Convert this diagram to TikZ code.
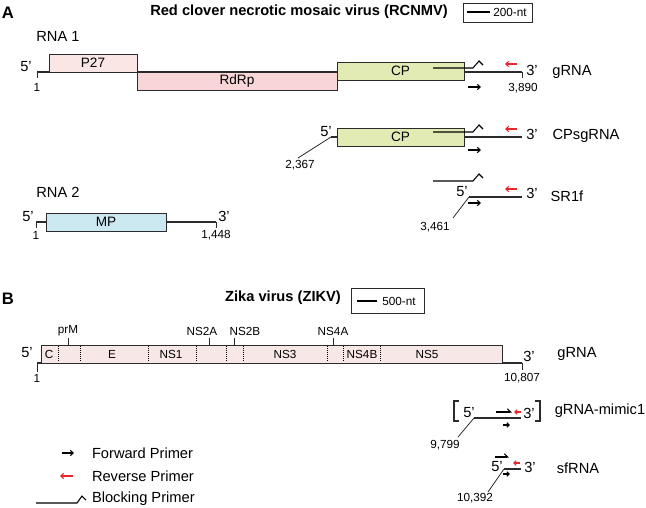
\documentclass[tikz,border=0pt]{standalone}
\usepackage{fontspec}
\setmainfont{Liberation Sans}
\usetikzlibrary{arrows.meta}
\definecolor{pPink}{HTML}{F9E6E5}
\definecolor{pRdRp}{HTML}{F8D5D6}
\definecolor{pCP}{HTML}{E3EBB5}
\definecolor{pMP}{HTML}{CCE9F2}
\definecolor{pZika}{HTML}{F8E7E7}
\definecolor{revred}{HTML}{E8262B}
\definecolor{ln}{HTML}{2B2B2B}
\begin{document}
\begin{tikzpicture}[x=0.75pt,y=-0.75pt,
  every node/.style={inner sep=0pt,outer sep=0pt},
  lab/.style={font=\fontsize{11}{12}\selectfont},
  num/.style={font=\fontsize{8.8}{10}\selectfont},
  glab/.style={font=\fontsize{10.2}{11}\selectfont},
  zlab/.style={font=\fontsize{8.8}{10}\selectfont},
  ttl/.style={font=\fontsize{11}{13}\selectfont\bfseries},
  panel/.style={font=\fontsize{12.5}{14}\selectfont\bfseries},
  gbox/.style={draw=ln,line width=0.75pt,minimum height=13.5pt},
  rna/.style={draw=ln,line width=1pt},
  thinl/.style={draw=ln,line width=0.6pt},
  fwd/.style={draw=black,line width=0.8pt,-{Straight Barb[length=2.2pt,width=4pt]}},
  rev/.style={draw=revred,line width=0.8pt,-{Straight Barb[length=2.2pt,width=4pt]}},
  blk/.style={draw=black,line width=0.8pt},
  harp/.style={draw=black,line width=0.8pt,-{Straight Barb[left,length=2.5pt,width=5pt]}},
]
\path[use as bounding box] (0,0) rectangle (646,507);

% ---------------- Panel A ----------------
\node[panel] (pA) at (8,13) {A};
\node[ttl] (tA) at (299,12) {Red clover necrotic mosaic virus (RCNMV)};
\node[draw=ln,line width=0.6pt,minimum width=51.75pt,minimum height=14.25pt] (scA) at (497.5,12.5) {};
\coordinate (scA1) at (467,12); \coordinate (scA2) at (490,12);
\draw[line width=0.8pt] (scA1) -- (scA2);
\node[num] (scAt) at (510,12.5) {200-nt};

\node[lab] (rna1) at (58,36) {RNA 1};

% gRNA
\coordinate (a1s) at (37,72); \coordinate (a1e) at (522,72);
\draw[rna] (a1s) -- (a1e);
\draw[thinl] (a1s) -- ++(0,6);
\draw[thinl] (a1e) -- ++(0,6);
\node[gbox,fill=pPink,minimum width=66pt,glab] (p27) at (93,63) {P27};
\node[gbox,fill=pRdRp,minimum width=150pt,glab] (rdrp) at (237,81) {RdRp};
\node[gbox,fill=pCP,minimum width=95.25pt,glab] (cp1) at (400.5,71) {CP};
\draw[blk] (433,68) -- (473,68) -- (479,61) -- (483,65);
\draw[rev] (517,64) -- (505,64);
\draw[fwd] (468,87) -- (481,87);
\node[lab] (a5) at (26,67) {5’};
\node[lab] (a3) at (532,70) {3’};
\node[lab] (agrna) at (572,72) {gRNA};
\node[num] (a1n) at (37,87) {1};
\node[num] (a3890) at (523,88) {3,890};

% CPsgRNA
\coordinate (c5) at (331,137); \coordinate (c3) at (522,137);
\draw[rna] (c5) -- (c3);
\node[gbox,fill=pCP,minimum width=95.25pt,glab] (cp2) at (400.5,137) {CP};
\draw[blk] (433,132) -- (473,132) -- (479,125) -- (483,129);
\draw[rev] (517,129) -- (505,129);
\draw[fwd] (468,150) -- (481,150);
\node[lab] (c5t) at (326,132) {5’};
\node[lab] (c3t) at (532,134) {3’};
\node[lab] (csg) at (586,136) {CPsgRNA};
\node[num] (c2367) at (300,165) {2,367};
\coordinate (cl) at (298,158);
\draw[thinl] (c5) -- (cl);

% SR1f
\draw[blk] (433,181) -- (473,181) -- (479,174) -- (483,178);
\coordinate (s5) at (469,197); \coordinate (s3) at (522,197);
\draw[rna] (s5) -- (s3);
\draw[rev] (517,189) -- (505,189);
\draw[fwd] (468,203) -- (481,203);
\node[lab] (s5t) at (462,192) {5’};
\node[lab] (s3t) at (532,193) {3’};
\node[lab] (sr1f) at (567,196) {SR1f};
\node[num] (s3461) at (435,227) {3,461};
\coordinate (sl) at (453,218);
\draw[thinl] (s5) -- (sl);

% RNA 2
\node[lab] (rna2) at (58,192) {RNA 2};
\coordinate (r5) at (36,222); \coordinate (r3) at (216,222);
\draw[rna] (r5) -- (r3);
\draw[thinl] (r5) -- ++(0,6);
\draw[thinl] (r3) -- ++(0,6);
\node[gbox,fill=pMP,minimum width=90pt,glab] (mp) at (106,222) {MP};
\node[lab] (r5t) at (28,217) {5’};
\node[lab] (r3t) at (224,216) {3’};
\node[num] (r1n) at (36,235) {1};
\node[num] (r1448) at (216,235) {1,448};

% ---------------- Panel B ----------------
\node[panel] (pB) at (8,299) {B};
\node[ttl] (tB) at (283,298) {Zika virus (ZIKV)};
\node[draw=ln,line width=0.6pt,minimum width=54.75pt,minimum height=18.75pt] (scB) at (387.5,300.5) {};
\coordinate (scB1) at (357,301); \coordinate (scB2) at (377,301);
\draw[line width=0.8pt] (scB1) -- (scB2);
\node[num] (scBt) at (399,301) {500-nt};

\coordinate (z5) at (37,363); \coordinate (z3) at (522,363);
\draw[rna] (z5) -- (z3);
\draw[thinl] (z5) -- ++(0,9);
\draw[thinl] (z3) -- ++(0,7);
\node[gbox,fill=pZika,minimum width=345.75pt] (zika) at (271.5,354) {};
\foreach \x in {58,80,148,196,226,243,327,343,380}
  \draw[densely dotted,line width=0.6pt] (\x,345.5) -- (\x,362.5);
\node[zlab] (zC) at (49,354) {C};
\node[zlab] (zE) at (112,354) {E};
\node[zlab] (zNS1) at (171,354) {NS1};
\node[zlab] (zNS3) at (285,354) {NS3};
\node[zlab] (zNS4B) at (362,354) {NS4B};
\node[zlab] (zNS5) at (427,354) {NS5};
\draw[thinl] (68,345) -- (68,338);
\draw[thinl] (209,345) -- (209,338);
\draw[thinl] (234,345) -- (234,338);
\draw[thinl] (333,345) -- (333,338);
\node[zlab] (zprM) at (68,331) {prM};
\node[zlab] (zNS2A) at (202,331) {NS2A};
\node[zlab] (zNS2B) at (245,331) {NS2B};
\node[zlab] (zNS4A) at (333,331) {NS4A};
\node[lab] (z5t) at (27,353) {5’};
\node[lab] (z3t) at (529,356) {3’};
\node[lab] (zg) at (577,354) {gRNA};
\node[num] (z1n) at (37,378) {1};
\node[num] (z10807) at (522,378) {10,807};

% gRNA-mimic1
\draw[thinl,line width=0.8pt] (459,401) -- (454,401) -- (454,421) -- (459,421);
\draw[thinl,line width=0.8pt] (535,401) -- (540,401) -- (540,421) -- (535,421);
\coordinate (m5) at (474,418); \coordinate (m3) at (521,418);
\draw[rna] (m5) -- (m3);
\draw[harp] (496,412) -- (512,412);
\draw[rev,-{Straight Barb[length=1.8pt,width=3.5pt]}] (521,412) -- (514,412);
\draw[fwd,-{Straight Barb[length=1.8pt,width=3.5pt]}] (503,425) -- (510,425);
\node[lab] (m5t) at (469,413) {5’};
\node[lab] (m3t) at (529,413) {3’};
\node[lab] (mim) at (600,411) {gRNA-mimic1};
\node[num] (m9799) at (445,445) {9,799};
\coordinate (ml) at (458,437);
\draw[thinl] (m5) -- (ml);

% sfRNA
\draw[harp] (495,457) -- (509,457);
\coordinate (f5) at (504,469); \coordinate (f3) at (521,469);
\draw[rna] (f5) -- (f3);
\draw[rev,-{Straight Barb[length=1.8pt,width=3.5pt]}] (520,463) -- (513,463);
\draw[fwd,-{Straight Barb[length=1.8pt,width=3.5pt]}] (503,474) -- (510,474);
\node[lab] (f5t) at (497,467) {5’};
\node[lab] (f3t) at (530,467) {3’};
\node[lab] (sf) at (578,468) {sfRNA};
\node[num] (f10392) at (475,498) {10,392};
\coordinate (fl) at (488,492);
\draw[thinl] (f5) -- (fl);

% Legend
\draw[fwd] (62,453) -- (74,453);
\draw[rev] (73,476) -- (60,476);
\draw[blk] (36,503) -- (77,503) -- (82,496) -- (86,500);
\node[lab,anchor=west] (lf) at (92,453) {Forward Primer};
\node[lab,anchor=west] (lr) at (92,476) {Reverse Primer};
\node[lab,anchor=west] (lb) at (92,499) {Blocking Primer};
\end{tikzpicture}
\end{document}
